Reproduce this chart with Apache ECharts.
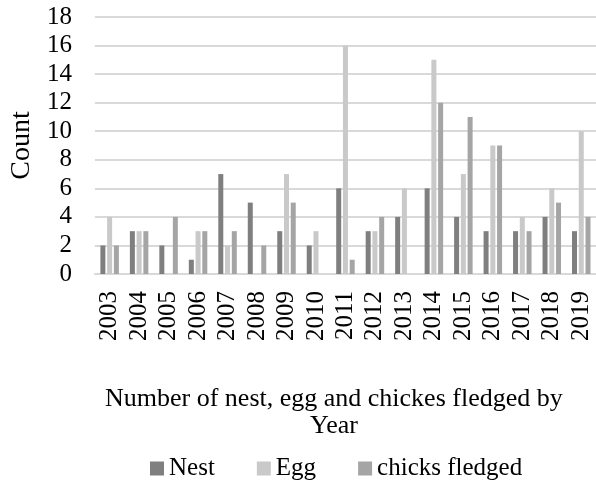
<!DOCTYPE html>
<html>
<head>
<meta charset="utf-8">
<script src="https://cdn.jsdelivr.net/npm/echarts@6/dist/echarts.min.js"></script>
<style>
  html, body { margin: 0; padding: 0; background: #fff; }
  #chart { width: 596px; height: 483px; }
</style>
</head>
<body>
<div id="chart"></div>
<script>
// counts per year
const years = ['2003', '2004', '2005', '2006', '2007', '2008', '2009', '2010', '2011',
  '2012', '2013', '2014', '2015', '2016', '2017', '2018', '2019']
const nest = [2, 3, 2, 1, 7, 5, 3, 2, 6, 3, 4, 6, 4, 3, 3, 4, 3]
const egg = [4, 3, 0, 3, 2, 0, 7, 3, 16, 3, 6, 15, 7, 9, 4, 6, 10]
const chicks = [2, 3, 4, 3, 3, 2, 5, 0, 1, 4, 0, 12, 11, 9, 3, 5, 4]

const FONT = '"Liberation Serif", "Times New Roman", serif'
const GRID_COLOR = '#d9d9d9'

const chart = echarts.init(document.getElementById('chart'))

function bar(name, data, color) {
  return {
    name,
    type: 'bar',
    data,
    barWidth: 5,
    barGap: '35%',
    itemStyle: { color },
  }
}

// title wraps onto two lines, both centred around x≈335 in the original
const titleStyle = { fontFamily: FONT, fontSize: 26, fontWeight: 'normal', color: '#000', lineHeight: 27 }

chart.setOption({
  backgroundColor: '#fff',
  animation: false,
  textStyle: { fontFamily: FONT, color: '#000' },
  title: [
    { text: 'Number of nest, egg and chickes fledged by', left: 105, top: 386, padding: 0, textStyle: titleStyle },
    { text: 'Year', left: 310, top: 413, padding: 0, textStyle: titleStyle },
  ],
  legend: {
    top: 456,
    left: 150,
    padding: 0,
    itemWidth: 14,
    itemHeight: 14,
    itemGap: 42,
    icon: 'rect',
    textStyle: { fontFamily: FONT, fontSize: 25, color: '#000' },
    data: ['Nest', 'Egg', 'chicks fledged'],
  },
  grid: { left: 91, right: 0, top: 17, bottom: 209, containLabel: false },
  xAxis: {
    type: 'category',
    data: years,
    axisLine: { lineStyle: { color: GRID_COLOR, width: 2 } },
    axisTick: { show: false },
    axisLabel: { interval: 0, rotate: 90, fontFamily: FONT, fontSize: 25, color: '#000', margin: 17 },
  },
  yAxis: {
    type: 'value',
    min: 0,
    max: 18,
    interval: 2,
    name: 'Count',
    nameLocation: 'middle',
    nameGap: 54,
    nameTextStyle: { fontFamily: FONT, fontSize: 28, color: '#000' },
    axisLine: { show: false },
    axisTick: { show: false },
    axisLabel: { fontFamily: FONT, fontSize: 25, color: '#000', margin: 23 },
    splitLine: { lineStyle: { color: GRID_COLOR, width: 2 } },
  },
  series: [
    bar('Nest', nest, '#7f7f7f'),
    bar('Egg', egg, '#c9c9c9'),
    bar('chicks fledged', chicks, '#a5a5a5'),
  ],
})
</script>
</body>
</html>
